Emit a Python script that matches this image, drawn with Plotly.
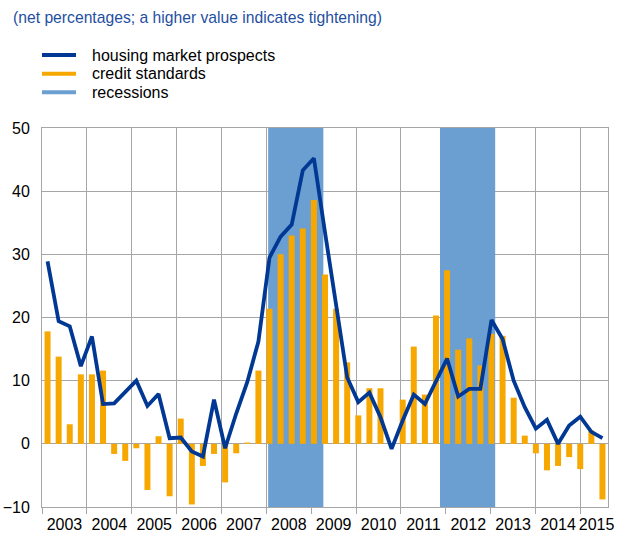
import plotly.graph_objects as go

# ---------------- data ----------------
quarters = [f"{y}Q{q}" for y in range(2003, 2016) for q in range(1, 5)][:51]

credit_standards = [17.8, 13.8, 3.1, 11.0,
                    11.0, 11.6, -1.6, -2.7,
                    -0.7, -7.3, 1.2, -8.3,
                    4.0, -9.6, -3.5, -1.6,
                    -6.1, -1.5, 0.2, 11.6,
                    21.4, 30.0, 33.0, 34.1,
                    38.6, 26.8, 21.4, 12.9,
                    4.5, 8.8, 8.8, 0.0,
                    7.0, 15.4, 7.8, 20.3,
                    27.5, 14.9, 16.7, 12.4,
                    17.4, 17.1, 7.3, 1.3,
                    -1.5, -4.2, -3.5, -2.1,
                    -4.0, 2.1, -8.8]

housing_market_prospects = [28.9, 19.4, 18.6, 12.3,
                            17.0, 6.3, 6.4, 8.3,
                            10.0, 6.0, 7.9, 0.9,
                            1.0, -1.2, -2.0, 7.0,
                            -0.7, 4.8, 9.8, 16.2,
                            29.5, 32.8, 34.7, 43.3,
                            45.2, 33.5, 21.6, 10.5,
                            6.6, 8.1, 4.2, -0.8,
                            3.7, 7.8, 6.3, 10.0,
                            13.5, 7.5, 8.7, 8.7,
                            19.6, 16.6, 10.0, 5.8,
                            2.4, 3.8, 0.0, 2.9,
                            4.3, 1.9, 0.9]

year_labels = [str(y) for y in range(2003, 2016)]
year_label_pos = [y + 0.5 for y in range(2003, 2015)] + [2015.36]

recession_start = [2008.04, 2011.87]
recession_end = [2009.27, 2013.10]

series_names = ["housing market prospects", "credit standards", "recessions"]

# ---------------- styles ----------------
LINE_C = "#003894"
BAR_C = "#f7a800"
SHADE_C = "#6c9fd1"
GRID_C = "#a6a6a6"
TITLE_C = "#1f4f9f"
FONT = "Arial, 'Liberation Sans', sans-serif"

fig = go.Figure()
fig.add_trace(go.Bar(x=quarters, y=credit_standards, xaxis="x2", yaxis="y",
                     marker=dict(color=BAR_C, line=dict(width=0)),
                     name=series_names[1], showlegend=False))
fig.add_trace(go.Scatter(x=quarters, y=housing_market_prospects, xaxis="x2", yaxis="y",
                         mode="lines", line=dict(color=LINE_C, width=3.8),
                         name=series_names[0], showlegend=False))

shapes = []
for s, e in zip(recession_start, recession_end):
    shapes.append(dict(type="rect", xref="x", yref="y", x0=s, x1=e, y0=-10, y1=50,
                       fillcolor=SHADE_C, line=dict(width=0), layer="between"))

# manual legend (swatches + labels)
legend_colors = [LINE_C, BAR_C, SHADE_C]
legend_y = [1.1926, 1.1433, 1.0942]
annotations = []
for name, col, yy in zip(series_names, legend_colors, legend_y):
    shapes.append(dict(type="line", xref="paper", yref="paper", x0=0.0, x1=0.0601,
                       y0=yy, y1=yy, line=dict(color=col, width=4)))
    annotations.append(dict(xref="paper", yref="paper", x=0.0848, y=yy, text=name,
                            showarrow=False, xanchor="left", yanchor="middle",
                            font=dict(size=16, color="#000000", family=FONT)))

fig.update_layout(
    width=617, height=536,
    margin=dict(l=42, r=9, t=128, b=29),
    paper_bgcolor="white", plot_bgcolor="white",
    font=dict(family=FONT, size=16, color="#000000"),
    bargap=0.46,
    showlegend=False,
    title=dict(text="(net percentages; a higher value indicates tightening)",
               xref="container", yref="container", x=13 / 617, y=1 - 18 / 536,
               xanchor="left", yanchor="middle",
               font=dict(size=15.7, color=TITLE_C, family=FONT)),
    xaxis=dict(range=[2003, 2015.614], tickmode="array", tickvals=year_label_pos,
               ticktext=year_labels, ticks="", showgrid=False, zeroline=False,
               showline=True, linecolor=GRID_C, linewidth=1, mirror=True,
               tickangle=0, automargin=False, ticklabelstandoff=3,
               tickfont=dict(size=16, color="#000000"),
               minor=dict(tickmode="linear", tick0=2003, dtick=1, showgrid=True,
                          gridcolor=GRID_C, gridwidth=1, ticks="outside",
                          ticklen=6, tickcolor=GRID_C)),
    xaxis2=dict(overlaying="x", type="category", range=[-0.5, 50.5], visible=False,
                automargin=False),
    yaxis=dict(range=[-10, 50], tick0=0, dtick=10, showgrid=True, gridcolor=GRID_C,
               gridwidth=1, zeroline=False, showline=True, linecolor=GRID_C,
               linewidth=1, mirror=True, ticks="", ticklabelstandoff=8,
               automargin=False,
               tickfont=dict(size=16, color="#000000")),
    shapes=shapes,
    annotations=annotations,
)

fig.write_html("out.html",
               config={"displayModeBar": False, "staticPlot": True},
               post_script="document.body.style.margin='0';document.body.style.padding='0';")
